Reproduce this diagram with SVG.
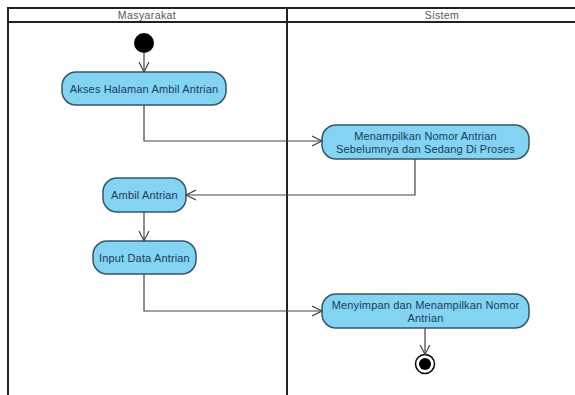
<svg xmlns="http://www.w3.org/2000/svg" width="575" height="395" viewBox="0 0 575 395">
<defs>
<marker id="arr" markerWidth="12" markerHeight="12" refX="10" refY="5" orient="auto" markerUnits="userSpaceOnUse" viewBox="0 0 12 10">
<path d="M0,0 L10,5 L0,10" fill="none" stroke="#444" stroke-width="1.2"/>
</marker>
<style>
.lane{fill:none;stroke:#222;stroke-width:2}
.hdr{font-family:"Liberation Sans",Arial,sans-serif;font-size:10.5px;letter-spacing:0.4px;fill:#555;text-anchor:middle}
.act rect{fill:#82d4f2;stroke:#35566a;stroke-width:1.5}
.act text{font-family:"Liberation Sans",Arial,sans-serif;font-size:11px;letter-spacing:0.15px;fill:#1d3b5c;text-anchor:middle}
.con path{fill:none;stroke:#444;stroke-width:1.2;marker-end:url(#arr)}
</style>
</defs>
<rect width="575" height="395" fill="#fff"/>
<g id="swimlanes">
<path class="lane" d="M8,400 V8 H600 M8,22 H600 M287,8 V400"/>
<text class="hdr" x="147" y="19">Masyarakat</text>
<text class="hdr" x="442" y="19">Sistem</text>
</g>
<g id="start"><circle cx="144" cy="43" r="10" fill="#000"/></g>
<g id="a1" class="act"><rect x="62" y="72" width="164" height="33" rx="14"/><text x="144" y="92.5">Akses Halaman Ambil Antrian</text></g>
<g id="a2" class="act"><rect x="322" y="125" width="207" height="34" rx="14"/><text x="425.5" y="139.5">Menampilkan Nomor Antrian</text><text x="425.5" y="153">Sebelumnya dan Sedang Di Proses</text></g>
<g id="a3" class="act"><rect x="103" y="178" width="83" height="34" rx="14"/><text x="144.5" y="199">Ambil Antrian</text></g>
<g id="a4" class="act"><rect x="93" y="241" width="103" height="33" rx="14"/><text x="144.5" y="261.5">Input Data Antrian</text></g>
<g id="a5" class="act"><rect x="322" y="294" width="207" height="34" rx="14"/><text x="425.5" y="308.5">Menyimpan dan Menampilkan Nomor</text><text x="425.5" y="321.5">Antrian</text></g>
<g id="end"><circle cx="425" cy="364" r="9.5" fill="#fff" stroke="#000" stroke-width="1.5"/><circle cx="425" cy="364" r="6" fill="#000"/></g>
<g id="connectors" class="con">
<path d="M144,53 V72"/>
<path d="M144,105 V141 H322"/>
<path d="M415,159 V195 H186"/>
<path d="M144,212 V241"/>
<path d="M144,274 V311 H322"/>
<path d="M425,328 V354.5"/>
</g>
</svg>
